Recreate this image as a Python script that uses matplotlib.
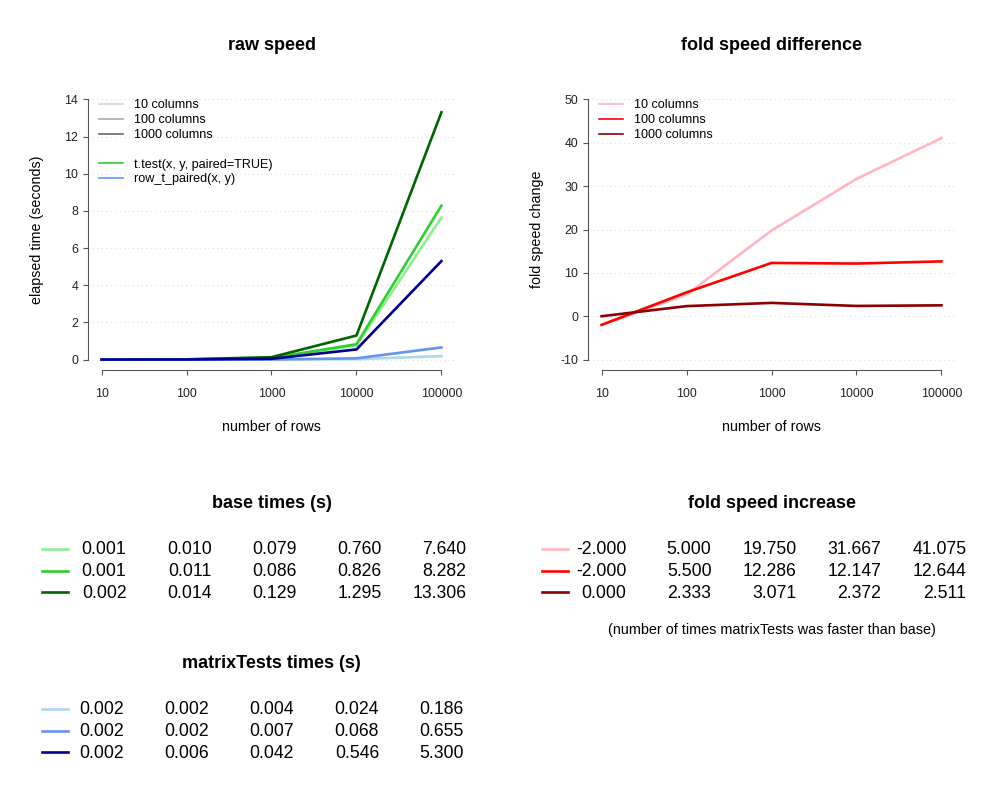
import numpy as np
import matplotlib
matplotlib.use("Agg")
import matplotlib.pyplot as plt
from matplotlib.lines import Line2D

plt.rcParams['font.family'] = ['Liberation Sans', 'DejaVu Sans']
plt.rcParams['axes.unicode_minus'] = False

# data
rows = [10, 100, 1000, 10000, 100000]
row_labels = ["10", "100", "1000", "10000", "100000"]

base_10 = [0.001, 0.010, 0.079, 0.760, 7.640]
base_100 = [0.001, 0.011, 0.086, 0.826, 8.282]
base_1000 = [0.002, 0.014, 0.129, 1.295, 13.306]

mt_10 = [0.002, 0.002, 0.004, 0.024, 0.186]
mt_100 = [0.002, 0.002, 0.007, 0.068, 0.655]
mt_1000 = [0.002, 0.006, 0.042, 0.546, 5.300]

fold_10 = [-2.000, 5.000, 19.750, 31.667, 41.075]
fold_100 = [-2.000, 5.500, 12.286, 12.147, 12.644]
fold_1000 = [0.000, 2.333, 3.071, 2.372, 2.511]

base_cols = ["#90EE90", "#32CD32", "#006400"]
mt_cols = ["#ADD8E6", "#6495ED", "#00008B"]
fold_cols = ["#FFB6C1", "#FF0000", "#8B0000"]
gray_cols = ["#D3D3D3", "#A9A9A9", "#696969"]
col_names = ["10 columns", "100 columns", "1000 columns"]

W, H = 1000, 800
fig = plt.figure(figsize=(10, 8), dpi=100)


def px(x, y):
    return x / W, 1 - y / H


def setup(ax, yticks):
    lo, hi = yticks[0], yticks[-1]
    ext = (hi - lo) * 0.04
    ax.set_xscale("log")
    ax.set_xlim(10 ** 0.84, 10 ** 5.16)
    ax.set_ylim(lo - ext, hi + ext)
    ax.set_xticks(rows)
    ax.set_xticklabels(row_labels)
    ax.minorticks_off()
    ax.set_yticks(yticks)
    for s in ["top", "right"]:
        ax.spines[s].set_visible(False)
    ax.spines["bottom"].set_bounds(rows[0], rows[-1])
    ax.spines["left"].set_bounds(lo, hi)
    for s in ["bottom", "left"]:
        ax.spines[s].set_color("#555555")
        ax.spines[s].set_linewidth(0.8)
    ax.tick_params(axis="both", direction="out", length=3.6, width=0.8,
                   color="#555555", labelsize=8.9, labelcolor="#222222")
    ax.tick_params(axis="x", pad=9.3)
    ax.tick_params(axis="y", pad=3.6)
    ax.yaxis.grid(True, linestyle=(0, (1, 3)), color="#DDDDDD", linewidth=0.8)
    ax.set_axisbelow(True)


def labels_xy(ax, xl, yl):
    ax.set_xlabel(xl, fontsize=10.3)
    ax.xaxis.set_label_coords(0.5, -57 / 281)
    ax.xaxis.label.set_va("center")
    ax.set_ylabel(yl, fontsize=10.3)
    ax.yaxis.set_label_coords(-51 / 367, 0.5)
    ax.yaxis.label.set_va("center")


# raw speed
ax1 = fig.add_axes([0.088, 0.5375, 0.367, 0.35125])
setup(ax1, [0, 2, 4, 6, 8, 10, 12, 14])
for vals, c in zip([base_10, base_100, base_1000], base_cols):
    ax1.plot(rows, vals, color=c, lw=1.9)
for vals, c in zip([mt_10, mt_100, mt_1000], mt_cols):
    ax1.plot(rows, vals, color=c, lw=1.9)
labels_xy(ax1, "number of rows", "elapsed time (seconds)")

handles = [Line2D([], [], color=c, lw=1.2) for c in gray_cols]
handles.append(Line2D([], [], color="none"))
handles.append(Line2D([], [], color=base_cols[1], lw=1.2))
handles.append(Line2D([], [], color=mt_cols[1], lw=1.2))
labels = col_names + [" ", "t.test(x, y, paired=TRUE)", "row_t_paired(x, y)"]
ax1.legend(handles, labels, loc="upper left", bbox_to_anchor=px(99, 99.5),
           bbox_transform=fig.transFigure, frameon=False, fontsize=9.1,
           handlelength=1.9, handletextpad=0.85, labelspacing=0.22,
           borderpad=0, borderaxespad=0)

# fold speed difference
ax2 = fig.add_axes([0.588, 0.5375, 0.367, 0.35125])
setup(ax2, [-10, 0, 10, 20, 30, 40, 50])
for vals, c in zip([fold_10, fold_100, fold_1000], fold_cols):
    ax2.plot(rows, vals, color=c, lw=1.9)
labels_xy(ax2, "number of rows", "fold speed change")
handles = [Line2D([], [], color=c, lw=1.2) for c in fold_cols]
ax2.legend(handles, col_names, loc="upper left", bbox_to_anchor=px(599, 99.5),
           bbox_transform=fig.transFigure, frameon=False, fontsize=9.1,
           handlelength=1.9, handletextpad=0.85, labelspacing=0.22,
           borderpad=0, borderaxespad=0)

# titles
fig.text(*px(271.5, 46), "raw speed", ha="center", va="center",
         fontsize=13, fontweight="bold")
fig.text(*px(771.5, 46), "fold speed difference", ha="center", va="center",
         fontsize=13, fontweight="bold")


# tables
def table(cx, ty, title, data, cols, row_y, dx=0.0):
    fig.text(*px(cx, ty), title, ha="center", va="center",
             fontsize=13, fontweight="bold")
    offs = [-145, -60, 25, 110, 195]
    for vals, c, y in zip(data, cols, row_y):
        fig.add_artist(Line2D([(cx - 229.5) / W, (cx - 203.5) / W],
                              [1 - y / H, 1 - y / H], color=c, lw=1.9,
                              transform=fig.transFigure))
        for v, o in zip(vals, offs):
            fig.text(*px(cx + o + dx, y + 1), "%.3f" % v, ha="right", va="center",
                     fontsize=12.7)


table(271.5, 504, "base times (s)", [base_10, base_100, base_1000],
      base_cols, [549, 570.5, 592])
table(271.5, 664, "matrixTests times (s)", [mt_10, mt_100, mt_1000],
      mt_cols, [709, 730.5, 752], dx=-2.5)
table(771.5, 504, "fold speed increase", [fold_10, fold_100, fold_1000],
      fold_cols, [549, 570.5, 592])
fig.text(*px(771.5, 630), "(number of times matrixTests was faster than base)",
         ha="center", va="center", fontsize=10.4)

fig.savefig("out.png", dpi=100)
